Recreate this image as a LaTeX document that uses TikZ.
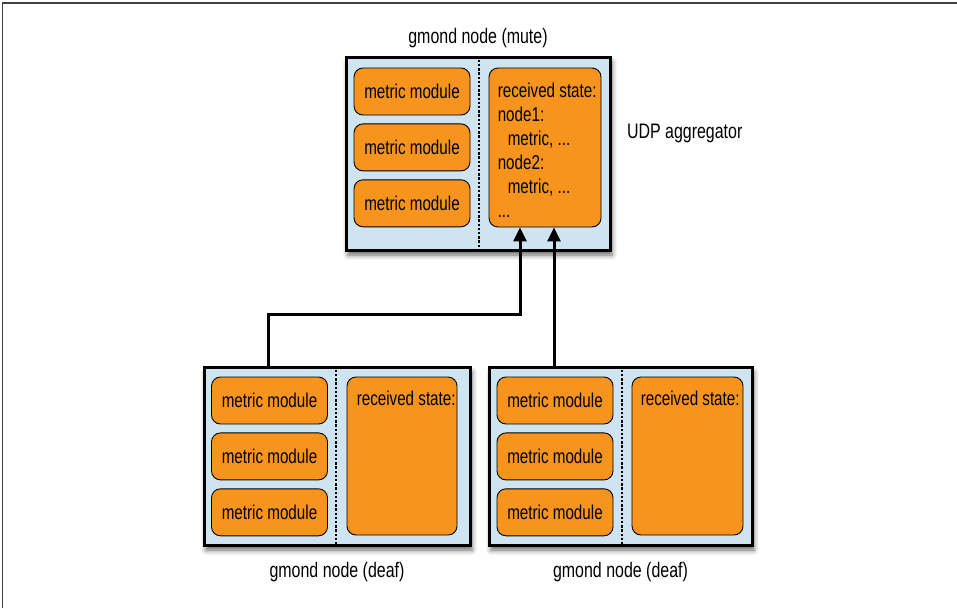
\documentclass[tikz,border=0pt]{standalone}
\usepackage{fontspec}
\setmainfont{Liberation Sans}[FakeStretch=0.76]
\usetikzlibrary{positioning,arrows.meta,shadows.blur}
\definecolor{paleblue}{RGB}{207,228,241}
\definecolor{modorange}{RGB}{247,148,30}
\tikzset{
  gmond/.style={draw, line width=3pt, fill=paleblue,
    blur shadow={shadow xshift=2pt, shadow yshift=-5pt, shadow blur radius=5pt, shadow opacity=60}},
  module/.style={draw, line width=0.9pt, fill=modorange, rounded corners=9pt,
    minimum width=116pt, minimum height=47pt, inner sep=0pt},
  state/.style={module, minimum width=112pt, minimum height=159pt},
  statetext/.style={anchor=north west, align=left, inner sep=0pt},
  divider/.style={line width=2.5pt, dash pattern=on 2.4pt off 1.8pt},
  flow/.style={line width=3pt, -{Triangle[length=14pt,width=13pt]}},
  caption/.style={font=\fontsize{21}{24}\selectfont},
}

\begin{document}
\begin{tikzpicture}[x=1pt,y=-1pt,font=\fontsize{20}{24}\selectfont]
    \useasboundingbox (0,0) rectangle (957,608);
    \draw[line width=1.5pt, black!75] (2.5,608) -- (2.5,3) -- (957,3);

    \node[gmond, minimum width=264pt, minimum height=193pt] (mute)  at (478,153.5) {};
    \node[gmond, minimum width=266pt, minimum height=178pt] (deafA) at (337,456)   {};
    \node[gmond, minimum width=263pt, minimum height=178pt] (deafB) at (620.5,456) {};

    \draw[divider] ([xshift=1pt]mute.north)   -- ([xshift=1pt]mute.south);
    \draw[divider] ([xshift=-1pt]deafA.north) -- ([xshift=-1pt]deafA.south);
    \draw[divider] ([xshift=1.5pt]deafB.north) -- ([xshift=1.5pt]deafB.south);

    \node[module]                   (muteM1) at (412,91.5) {metric module};
    \node[module, below=8pt of muteM1] (muteM2) {metric module};
    \node[module, below=8pt of muteM2] (muteM3) {metric module};
    \node[module]                   (deafAM1) at (269.5,400.5) {metric module};
    \node[module, below=8pt of deafAM1] (deafAM2) {metric module};
    \node[module, below=8pt of deafAM2] (deafAM3) {metric module};
    \node[module]                   (deafBM1) at (555,400.5) {metric module};
    \node[module, below=8pt of deafBM1] (deafBM2) {metric module};
    \node[module, below=8pt of deafBM2] (deafBM3) {metric module};

    \node[state] (muteState)  at (545,147.5) {};
    \node[state, minimum width=110pt, minimum height=158pt] (deafAState) at (402,456) {};
    \node[state, minimum width=111pt, minimum height=158pt] (deafBState) at (687.5,456) {};
    \node[statetext] (muteText) at ([shift={(9,15)}]muteState.north west)
      {received state:\\node1:\\\hspace{10pt}metric, ...\\node2:\\\hspace{10pt}metric, ...\\...};
    \node[statetext] (deafAText) at ([shift={(10,14)}]deafAState.north west) {received state:};
    \node[statetext] (deafBText) at ([shift={(9,14)}]deafBState.north west) {received state:};

    \node[caption, above=4pt of mute] (muteLabel) {gmond node (mute)};
    \node[caption, anchor=west] (udpLabel) at ([shift={(12,-20)}]mute.east) {UDP aggregator};
    \node[caption, below=12pt of deafA] (deafALabel) {gmond node (deaf)};
    \node[caption, below=12pt of deafB] (deafBLabel) {gmond node (deaf)};

    \draw[flow] ([xshift=-69pt]deafA.north) -- ++(0,-51) -| ([xshift=-25pt]muteState.south);
    \draw[flow] ([xshift=9pt]muteState.south |- deafB.north) -- ([xshift=9pt]muteState.south);
\end{tikzpicture}
\end{document}
